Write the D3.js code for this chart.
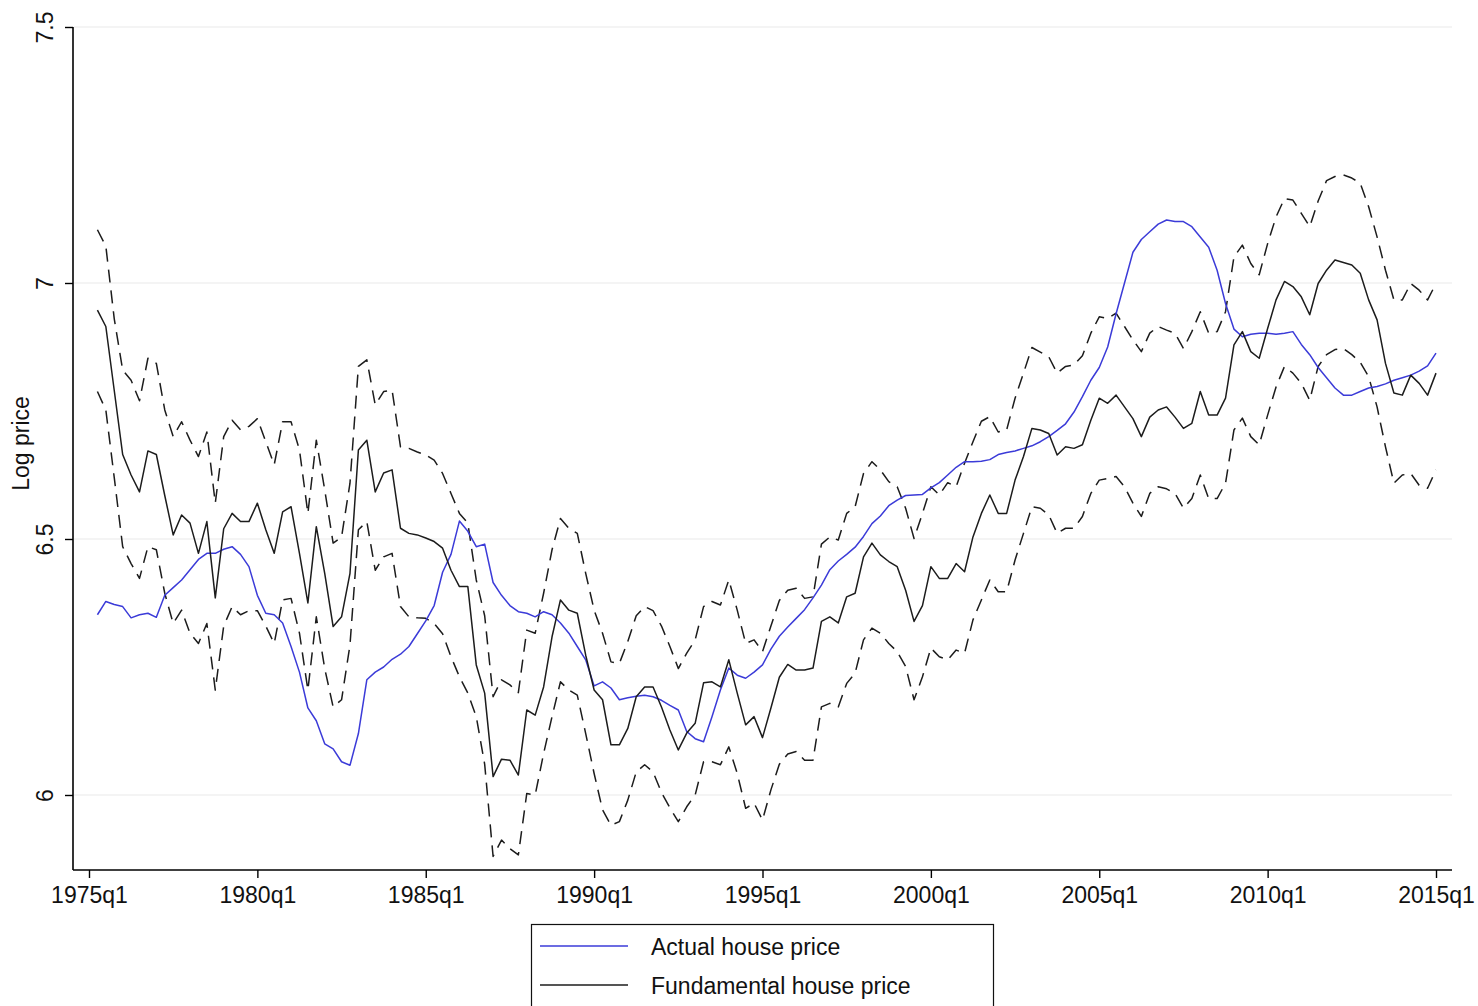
<!DOCTYPE html>
<html>
<head>
<meta charset="utf-8">
<script src="https://cdn.jsdelivr.net/npm/d3@7"></script>
<style>
  body { margin: 0; background: #fff; }
  svg { display: block; }
  text { font-family: "Liberation Sans", Arial, Helvetica, sans-serif; }
</style>
</head>
<body>
<svg id="chart" width="1478" height="1006"></svg>
<script>
// Quarterly series, 1975q2 through 2015q1
const startYear = 1975, startQuarter = 2, nQuarters = 160;
const xTickLabels = ["1975q1","1980q1","1985q1","1990q1","1995q1","2000q1","2005q1","2010q1","2015q1"];
const yTicks = [6, 6.5, 7, 7.5];
const legendLabels = ["Actual house price", "Fundamental house price"];

const actualPrice = [
  6.352,6.378,6.372,6.368,6.346,6.352,6.355,6.347,6.390,6.405,
  6.420,6.440,6.460,6.472,6.472,6.480,6.485,6.470,6.446,6.390,
  6.355,6.352,6.336,6.290,6.240,6.170,6.145,6.100,6.090,6.065,
  6.058,6.120,6.225,6.240,6.250,6.265,6.275,6.290,6.315,6.340,
  6.370,6.435,6.470,6.535,6.515,6.485,6.490,6.415,6.390,6.370,
  6.358,6.355,6.348,6.358,6.352,6.336,6.316,6.290,6.264,6.213,
  6.221,6.209,6.186,6.190,6.193,6.195,6.192,6.185,6.175,6.166,
  6.124,6.110,6.104,6.153,6.205,6.248,6.234,6.228,6.240,6.254,
  6.285,6.310,6.328,6.345,6.362,6.385,6.410,6.440,6.457,6.470,
  6.484,6.505,6.530,6.545,6.565,6.576,6.585,6.586,6.587,6.600,
  6.610,6.625,6.640,6.651,6.651,6.652,6.655,6.665,6.669,6.672,
  6.677,6.682,6.690,6.700,6.712,6.725,6.748,6.778,6.810,6.835,
  6.875,6.940,7.000,7.060,7.085,7.100,7.115,7.123,7.120,7.120,
  7.110,7.090,7.070,7.025,6.960,6.910,6.895,6.900,6.902,6.902,
  6.900,6.902,6.905,6.880,6.860,6.835,6.815,6.795,6.781,6.781,
  6.788,6.795,6.798,6.803,6.810,6.815,6.820,6.828,6.838,6.863
];

const fundamentalPrice = [
  6.947,6.915,6.790,6.665,6.625,6.592,6.672,6.665,6.585,6.508,
  6.547,6.531,6.472,6.534,6.385,6.520,6.550,6.534,6.534,6.570,
  6.518,6.472,6.553,6.563,6.472,6.375,6.524,6.433,6.329,6.348,
  6.433,6.674,6.693,6.592,6.629,6.635,6.521,6.511,6.508,6.502,
  6.495,6.482,6.439,6.407,6.407,6.254,6.199,6.036,6.070,6.068,
  6.039,6.166,6.156,6.211,6.309,6.381,6.361,6.355,6.273,6.205,
  6.186,6.098,6.098,6.130,6.192,6.211,6.211,6.172,6.127,6.088,
  6.121,6.140,6.219,6.221,6.211,6.264,6.199,6.137,6.153,6.112,
  6.170,6.230,6.255,6.244,6.244,6.248,6.339,6.348,6.336,6.387,
  6.394,6.465,6.492,6.469,6.456,6.446,6.400,6.339,6.370,6.446,
  6.423,6.423,6.452,6.436,6.504,6.550,6.586,6.550,6.550,6.615,
  6.661,6.716,6.713,6.706,6.664,6.680,6.677,6.684,6.732,6.775,
  6.765,6.781,6.758,6.735,6.700,6.738,6.752,6.758,6.738,6.716,
  6.726,6.788,6.742,6.742,6.775,6.879,6.905,6.866,6.853,6.911,
  6.967,7.003,6.993,6.973,6.938,6.999,7.025,7.045,7.040,7.035,
  7.019,6.967,6.928,6.843,6.785,6.781,6.820,6.804,6.781,6.824
];

const upperBand = [
  7.104,7.072,6.930,6.830,6.810,6.770,6.853,6.843,6.752,6.700,
  6.729,6.693,6.661,6.709,6.570,6.700,6.732,6.713,6.720,6.735,
  6.690,6.645,6.729,6.729,6.674,6.550,6.693,6.596,6.492,6.504,
  6.609,6.837,6.850,6.762,6.788,6.791,6.680,6.677,6.670,6.664,
  6.654,6.628,6.589,6.550,6.531,6.420,6.350,6.192,6.225,6.215,
  6.200,6.322,6.316,6.394,6.479,6.540,6.521,6.511,6.433,6.361,
  6.316,6.260,6.257,6.300,6.350,6.368,6.360,6.330,6.290,6.247,
  6.277,6.303,6.368,6.378,6.371,6.420,6.361,6.296,6.303,6.280,
  6.330,6.380,6.400,6.404,6.384,6.387,6.490,6.504,6.498,6.550,
  6.563,6.628,6.651,6.635,6.612,6.602,6.560,6.501,6.550,6.602,
  6.586,6.610,6.602,6.648,6.690,6.730,6.739,6.709,6.713,6.775,
  6.824,6.874,6.865,6.856,6.824,6.837,6.840,6.858,6.902,6.934,
  6.931,6.941,6.915,6.889,6.866,6.902,6.915,6.908,6.902,6.872,
  6.905,6.944,6.902,6.905,6.944,7.051,7.074,7.038,7.016,7.077,
  7.129,7.165,7.162,7.136,7.110,7.160,7.200,7.208,7.211,7.205,
  7.195,7.149,7.090,7.025,6.967,6.967,6.999,6.986,6.967,6.999
];

const lowerBand = [
  6.788,6.752,6.620,6.485,6.452,6.423,6.485,6.479,6.394,6.335,
  6.361,6.316,6.296,6.335,6.205,6.330,6.368,6.352,6.360,6.360,
  6.330,6.296,6.381,6.384,6.316,6.205,6.348,6.247,6.172,6.186,
  6.293,6.518,6.534,6.439,6.465,6.472,6.368,6.348,6.346,6.345,
  6.335,6.315,6.270,6.231,6.199,6.153,6.060,5.880,5.912,5.895,
  5.883,6.003,6.000,6.081,6.153,6.221,6.205,6.195,6.120,6.042,
  5.971,5.941,5.948,5.990,6.045,6.059,6.045,6.005,5.975,5.948,
  5.977,6.000,6.065,6.065,6.059,6.094,6.042,5.974,5.984,5.951,
  6.010,6.060,6.080,6.085,6.068,6.068,6.172,6.179,6.172,6.218,
  6.238,6.303,6.326,6.316,6.296,6.280,6.251,6.186,6.231,6.287,
  6.270,6.264,6.283,6.277,6.342,6.381,6.420,6.397,6.397,6.459,
  6.511,6.563,6.560,6.547,6.511,6.521,6.521,6.544,6.589,6.615,
  6.618,6.622,6.602,6.570,6.544,6.589,6.602,6.598,6.589,6.560,
  6.579,6.625,6.579,6.579,6.609,6.713,6.736,6.700,6.684,6.742,
  6.797,6.837,6.824,6.804,6.771,6.837,6.860,6.870,6.872,6.860,
  6.845,6.817,6.758,6.680,6.609,6.625,6.628,6.605,6.599,6.635
];

// quarter labels -> fractional years
function quarterToYear(label) {
  const [y, q] = label.split("q").map(Number);
  return y + (q - 1) / 4;
}
const periods = [];
for (let i = 0; i < nQuarters; i++) {
  const k = (startQuarter - 1) + i;
  periods.push(startYear + Math.floor(k / 4) + (k % 4) / 4);
}

const svg = d3.select("#chart");
const axisLeftX = 73, axisRightX = 1452, axisTopY = 27, axisBottomY = 870;
const fontSize = 23;

const x = d3.scaleLinear().domain([1974.525, 2015.475]).range([axisLeftX, axisRightX]);
const y = d3.scaleLinear().domain([5.8535, 7.5]).range([axisBottomY, axisTopY]);

// horizontal grid
svg.append("g").selectAll("line").data(yTicks).join("line")
  .attr("x1", axisLeftX + 1).attr("x2", axisRightX)
  .attr("y1", d => y(d)).attr("y2", d => y(d))
  .attr("stroke", "#e9e9e9").attr("stroke-width", 1);

// series
const line = d3.line().x((d, i) => x(periods[i])).y(d => y(d));
const series = [
  { values: lowerBand, color: "#1c1c1c", dash: "13,8" },
  { values: upperBand, color: "#1c1c1c", dash: "13,8" },
  { values: actualPrice, color: "#3b3bd8", dash: null },
  { values: fundamentalPrice, color: "#1c1c1c", dash: null }
];
svg.append("g").selectAll("path").data(series).join("path")
  .attr("d", d => line(d.values))
  .attr("fill", "none")
  .attr("stroke", d => d.color)
  .attr("stroke-width", 1.5)
  .attr("stroke-linejoin", "round")
  .attr("stroke-dasharray", d => d.dash);

// x axis
const xAxis = d3.axisBottom(x)
  .tickValues(xTickLabels.map(quarterToYear))
  .tickFormat((d, i) => xTickLabels[i])
  .tickSize(8).tickSizeOuter(0);
const gx = svg.append("g").attr("transform", `translate(0,${axisBottomY})`).call(xAxis);
gx.select(".domain").attr("stroke", "#000").attr("stroke-width", 1.6)
  .attr("d", `M${axisLeftX},0H${axisRightX}`);
gx.selectAll(".tick line").attr("stroke", "#000").attr("stroke-width", 1.4);
gx.selectAll(".tick text").attr("font-size", fontSize).attr("fill", "#111")
  .attr("font-family", null).attr("y", 17).attr("dy", "0.71em");

// y axis
const yAxis = d3.axisLeft(y).tickValues(yTicks).tickFormat(d3.format("")).tickSize(8).tickSizeOuter(0);
const gy = svg.append("g").attr("transform", `translate(${axisLeftX},0)`).call(yAxis);
gy.select(".domain").attr("stroke", "#000").attr("stroke-width", 1.6)
  .attr("d", `M0,${axisTopY}V${axisBottomY}`);
gy.selectAll(".tick line").attr("stroke", "#000").attr("stroke-width", 1.4);
gy.selectAll(".tick text").attr("font-size", fontSize).attr("fill", "#111")
  .attr("font-family", null)
  .attr("x", null).attr("dy", null)
  .attr("text-anchor", "middle")
  .attr("transform", "translate(-20,0) rotate(-90)");

// y axis title
svg.append("text")
  .attr("transform", `translate(29,${(axisTopY + axisBottomY) / 2 - 5}) rotate(-90)`)
  .attr("text-anchor", "middle").attr("font-size", fontSize).attr("fill", "#111")
  .text("Log price");

// legend
const legend = svg.append("g");
legend.append("rect").attr("x", 531.5).attr("y", 924.5).attr("width", 462).attr("height", 120)
  .attr("fill", "#fff").attr("stroke", "#111").attr("stroke-width", 1.2);
const legendColors = ["#3b3bd8", "#1c1c1c"];
legendLabels.forEach((lab, i) => {
  const ly = 946 + i * 39;
  legend.append("line").attr("x1", 540).attr("x2", 628).attr("y1", ly).attr("y2", ly)
    .attr("stroke", legendColors[i]).attr("stroke-width", 1.6);
  legend.append("text").attr("x", 651).attr("y", ly + 9)
    .attr("font-size", fontSize).attr("fill", "#111").text(lab);
});
</script>
</body>
</html>
